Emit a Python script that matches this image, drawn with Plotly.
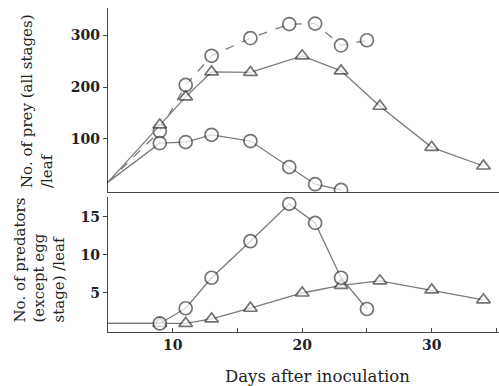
import plotly.graph_objects as go
from plotly.subplots import make_subplots

# ---- data ----
prey_ctrl_days = [5, 9, 11, 13, 16, 19, 21, 23, 25]
prey_ctrl_vals = [17, 115, 204, 260, 294, 321, 322, 280, 290]

prey_tri_days = [5, 9, 11, 13, 16, 20, 23, 26, 30, 34]
prey_tri_vals = [17, 127, 181, 229, 228, 260, 231, 163, 84, 48]

prey_circ_days = [5, 9, 11, 13, 16, 19, 21, 23]
prey_circ_vals = [17, 92, 94, 108, 96, 46, 13, 2]

pred_circ_days = [5, 9, 11, 13, 16, 19, 21, 23, 25]
pred_circ_vals = [1, 1, 3, 7, 11.8, 16.7, 14.2, 7, 2.9]

pred_tri_days = [5, 9, 11, 13, 16, 20, 23, 26, 30, 34]
pred_tri_vals = [1, 1, 1, 1.6, 3, 5, 6, 6.6, 5.4, 4.1]

top_ticks = [100, 200, 300]
bot_ticks = [5, 10, 15]
x_ticks = [10, 15, 20, 25, 30, 35]
x_ticktext = ["10", "", "20", "", "30", ""]

# ---- style ----
FONT = "DejaVu Serif"
LINE = "#7a7a7a"
MK = "#3a3a3a"
W, H = 499, 386
ML, MR, MT, MB = 108, 0, 8, 54
PW, PH = W - ML - MR, H - MT - MB


def px(xp):
    return (xp - ML) / PW


def py(yp):
    return (H - MB - yp) / PH


fig = make_subplots(rows=2, cols=1, shared_xaxes=True, vertical_spacing=0.0)


def sizes(n, s):
    return [0] + [s] * (n - 1)


def add(days, vals, symbol, dash, row, msize):
    fig.add_trace(go.Scatter(
        x=days, y=vals, mode="lines+markers",
        line=dict(color=LINE, width=1.3, dash=dash),
        marker=dict(symbol=symbol, size=sizes(len(days), msize), color="white",
                    line=dict(color=MK, width=1.7)),
        showlegend=False, hoverinfo="skip"), row=row, col=1)


add(prey_ctrl_days, prey_ctrl_vals, "circle", "dash", 1, 13)
add(prey_circ_days, prey_circ_vals, "circle", "solid", 1, 13)
add(prey_tri_days, prey_tri_vals, "triangle-up", "solid", 1, 12)
add(pred_tri_days, pred_tri_vals, "triangle-up", "solid", 2, 12)
add(pred_circ_days, pred_circ_vals, "circle", "solid", 2, 13)

tickfont = dict(family=FONT, size=14, color="#222", weight="bold")

fig.update_layout(
    width=W, height=H, margin=dict(l=ML, r=MR, t=MT, b=MB),
    paper_bgcolor="white", plot_bgcolor="white",
    font=dict(family=FONT, color="#222"),
    xaxis=dict(domain=[0, 1], range=[5, 35.2], showline=True, linecolor="#444",
               linewidth=1.3, showgrid=False, zeroline=False, ticks="",
               showticklabels=False),
    xaxis2=dict(range=[5, 35.2], showline=True, linecolor="#444", linewidth=1.3,
                showgrid=False, zeroline=False, ticks="inside", ticklen=4,
                tickcolor="#444", tickvals=x_ticks, ticktext=x_ticktext,
                tickfont=tickfont),
    yaxis=dict(domain=[py(192), 1], range=[-2, 352], showline=True,
               linecolor="#444", linewidth=1.3, showgrid=False, zeroline=False,
               ticks="outside", ticklen=4, tickcolor="#444",
               tickvals=top_ticks, tickfont=tickfont),
    yaxis2=dict(domain=[0, py(197)], range=[-0.12, 17.6], showline=True,
                linecolor="#444", linewidth=1.3, showgrid=False, zeroline=False,
                ticks="outside", ticklen=4, tickcolor="#444",
                tickvals=bot_ticks, tickfont=tickfont),
)

tfont = dict(family=FONT, size=15, color="#222")
fig.add_annotation(text="No. of prey (all stages)<br>/leaf", textangle=-90,
                   align="left", xref="paper", yref="paper",
                   x=px(37), y=py(190), xanchor="center", yanchor="bottom",
                   showarrow=False, font=tfont)
fig.add_annotation(text="No. of predators<br>(except egg<br>stage) /leaf", textangle=-90,
                   align="left", xref="paper", yref="paper",
                   x=px(39), y=py(325), xanchor="center", yanchor="bottom",
                   showarrow=False, font=tfont)
fig.add_annotation(text="Days after inoculation", xref="paper", yref="paper",
                   x=px(317), y=py(376), xanchor="center", yanchor="middle",
                   showarrow=False, font=dict(family=FONT, size=16.5, color="#222"))

fig.write_html("out.html")
